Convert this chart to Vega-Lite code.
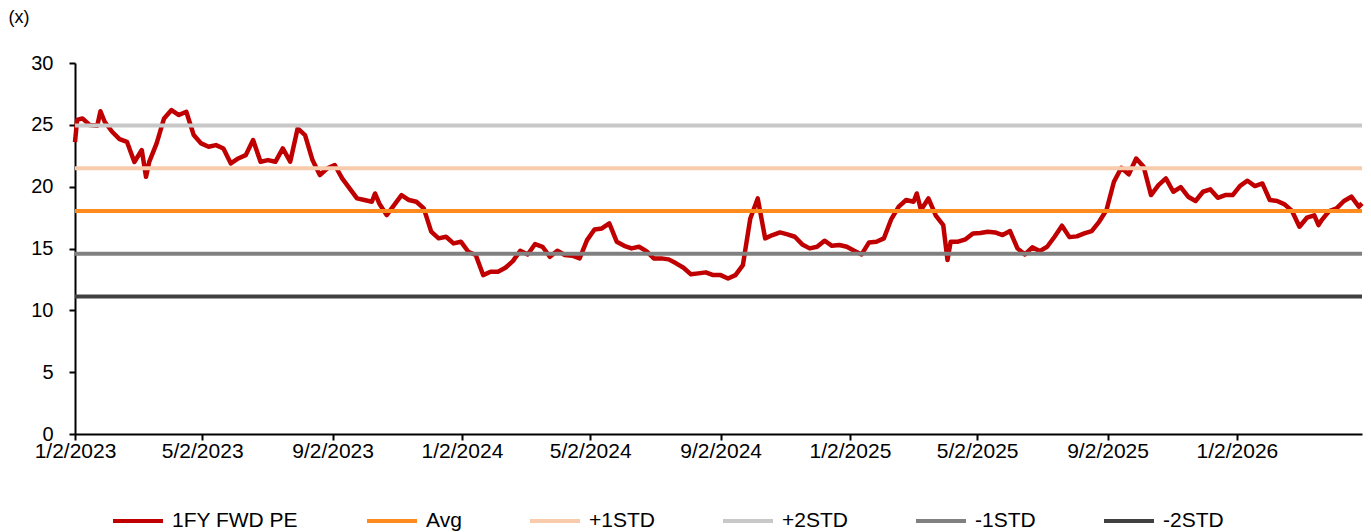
{
  "$schema": "https://vega.github.io/schema/vega-lite/v6.json",
  "width": 1287,
  "height": 371,
  "autosize": "none",
  "padding": {"left": 75, "top": 63, "right": 9, "bottom": 98},
  "background": "white",
  "config": {
    "view": {"stroke": null},
    "font": "Liberation Sans",
    "axis": {
      "grid": false,
      "domainColor": "#000000",
      "domainWidth": 2,
      "tickColor": "#000000",
      "tickWidth": 2,
      "tickSize": 6,
      "labelColor": "#000000",
      "labelFont": "Liberation Sans",
      "titleFont": "Liberation Sans",
      "titleColor": "#000000"
    },
    "legend": {
      "labelFont": "Liberation Sans",
      "labelColor": "#000000"
    }
  },
  "datasets": {
    "pe": [
      {"date": "2023-01-02", "pe": 23.6},
      {"date": "2023-01-04", "pe": 25.4},
      {"date": "2023-01-09", "pe": 25.52},
      {"date": "2023-01-16", "pe": 24.98},
      {"date": "2023-01-23", "pe": 24.93},
      {"date": "2023-01-26", "pe": 26.1},
      {"date": "2023-01-30", "pe": 25.25},
      {"date": "2023-02-06", "pe": 24.44},
      {"date": "2023-02-13", "pe": 23.85},
      {"date": "2023-02-20", "pe": 23.63},
      {"date": "2023-02-27", "pe": 22.0},
      {"date": "2023-03-06", "pe": 22.96},
      {"date": "2023-03-10", "pe": 20.8},
      {"date": "2023-03-13", "pe": 22.0},
      {"date": "2023-03-20", "pe": 23.5},
      {"date": "2023-03-27", "pe": 25.52},
      {"date": "2023-04-03", "pe": 26.19},
      {"date": "2023-04-10", "pe": 25.79},
      {"date": "2023-04-17", "pe": 26.06},
      {"date": "2023-04-24", "pe": 24.17},
      {"date": "2023-05-01", "pe": 23.5},
      {"date": "2023-05-08", "pe": 23.23},
      {"date": "2023-05-15", "pe": 23.36},
      {"date": "2023-05-22", "pe": 23.09},
      {"date": "2023-05-29", "pe": 21.88},
      {"date": "2023-06-05", "pe": 22.28},
      {"date": "2023-06-12", "pe": 22.55},
      {"date": "2023-06-19", "pe": 23.77},
      {"date": "2023-06-26", "pe": 22.01},
      {"date": "2023-07-03", "pe": 22.15},
      {"date": "2023-07-10", "pe": 22.01},
      {"date": "2023-07-17", "pe": 23.09},
      {"date": "2023-07-24", "pe": 22.02},
      {"date": "2023-07-31", "pe": 24.71},
      {"date": "2023-08-07", "pe": 24.17},
      {"date": "2023-08-14", "pe": 22.15},
      {"date": "2023-08-21", "pe": 20.94},
      {"date": "2023-08-28", "pe": 21.48},
      {"date": "2023-09-04", "pe": 21.75},
      {"date": "2023-09-11", "pe": 20.67},
      {"date": "2023-09-18", "pe": 19.86},
      {"date": "2023-09-25", "pe": 19.05},
      {"date": "2023-10-02", "pe": 18.92},
      {"date": "2023-10-09", "pe": 18.78},
      {"date": "2023-10-12", "pe": 19.45},
      {"date": "2023-10-16", "pe": 18.64},
      {"date": "2023-10-23", "pe": 17.7},
      {"date": "2023-10-30", "pe": 18.51},
      {"date": "2023-11-06", "pe": 19.32},
      {"date": "2023-11-13", "pe": 18.92},
      {"date": "2023-11-20", "pe": 18.78},
      {"date": "2023-11-27", "pe": 18.24},
      {"date": "2023-12-04", "pe": 16.36},
      {"date": "2023-12-11", "pe": 15.82},
      {"date": "2023-12-18", "pe": 15.95},
      {"date": "2023-12-25", "pe": 15.41},
      {"date": "2024-01-01", "pe": 15.55},
      {"date": "2024-01-08", "pe": 14.74},
      {"date": "2024-01-15", "pe": 14.47},
      {"date": "2024-01-22", "pe": 12.85},
      {"date": "2024-01-29", "pe": 13.12},
      {"date": "2024-02-05", "pe": 13.12},
      {"date": "2024-02-12", "pe": 13.44},
      {"date": "2024-02-19", "pe": 13.98},
      {"date": "2024-02-26", "pe": 14.82},
      {"date": "2024-03-04", "pe": 14.52},
      {"date": "2024-03-11", "pe": 15.36},
      {"date": "2024-03-18", "pe": 15.14},
      {"date": "2024-03-25", "pe": 14.33},
      {"date": "2024-04-01", "pe": 14.82},
      {"date": "2024-04-08", "pe": 14.47},
      {"date": "2024-04-15", "pe": 14.42},
      {"date": "2024-04-22", "pe": 14.2},
      {"date": "2024-04-29", "pe": 15.68},
      {"date": "2024-05-06", "pe": 16.54},
      {"date": "2024-05-13", "pe": 16.62},
      {"date": "2024-05-20", "pe": 17.03},
      {"date": "2024-05-27", "pe": 15.55},
      {"date": "2024-06-03", "pe": 15.22},
      {"date": "2024-06-10", "pe": 15.01},
      {"date": "2024-06-17", "pe": 15.14},
      {"date": "2024-06-24", "pe": 14.79},
      {"date": "2024-07-01", "pe": 14.2},
      {"date": "2024-07-08", "pe": 14.2},
      {"date": "2024-07-15", "pe": 14.12},
      {"date": "2024-07-22", "pe": 13.8},
      {"date": "2024-07-29", "pe": 13.44},
      {"date": "2024-08-05", "pe": 12.91},
      {"date": "2024-08-12", "pe": 12.99},
      {"date": "2024-08-19", "pe": 13.07},
      {"date": "2024-08-26", "pe": 12.85},
      {"date": "2024-09-02", "pe": 12.85},
      {"date": "2024-09-09", "pe": 12.58},
      {"date": "2024-09-16", "pe": 12.85},
      {"date": "2024-09-23", "pe": 13.66},
      {"date": "2024-09-30", "pe": 17.43},
      {"date": "2024-10-07", "pe": 19.05},
      {"date": "2024-10-14", "pe": 15.82},
      {"date": "2024-10-21", "pe": 16.09},
      {"date": "2024-10-28", "pe": 16.3},
      {"date": "2024-11-04", "pe": 16.14},
      {"date": "2024-11-11", "pe": 15.95},
      {"date": "2024-11-18", "pe": 15.33},
      {"date": "2024-11-25", "pe": 15.01},
      {"date": "2024-12-02", "pe": 15.14},
      {"date": "2024-12-09", "pe": 15.63},
      {"date": "2024-12-16", "pe": 15.22},
      {"date": "2024-12-23", "pe": 15.28},
      {"date": "2024-12-30", "pe": 15.14},
      {"date": "2025-01-06", "pe": 14.82},
      {"date": "2025-01-13", "pe": 14.52},
      {"date": "2025-01-20", "pe": 15.49},
      {"date": "2025-01-27", "pe": 15.55},
      {"date": "2025-02-03", "pe": 15.82},
      {"date": "2025-02-10", "pe": 17.38},
      {"date": "2025-02-17", "pe": 18.38},
      {"date": "2025-02-24", "pe": 18.92},
      {"date": "2025-03-03", "pe": 18.78},
      {"date": "2025-03-06", "pe": 19.45},
      {"date": "2025-03-10", "pe": 18.11},
      {"date": "2025-03-17", "pe": 19.05},
      {"date": "2025-03-24", "pe": 17.65},
      {"date": "2025-03-31", "pe": 16.89},
      {"date": "2025-04-04", "pe": 14.07},
      {"date": "2025-04-07", "pe": 15.55},
      {"date": "2025-04-14", "pe": 15.55},
      {"date": "2025-04-21", "pe": 15.74},
      {"date": "2025-04-28", "pe": 16.22},
      {"date": "2025-05-05", "pe": 16.25},
      {"date": "2025-05-12", "pe": 16.35},
      {"date": "2025-05-19", "pe": 16.3},
      {"date": "2025-05-26", "pe": 16.09},
      {"date": "2025-06-02", "pe": 16.41},
      {"date": "2025-06-09", "pe": 15.01},
      {"date": "2025-06-16", "pe": 14.52},
      {"date": "2025-06-23", "pe": 15.09},
      {"date": "2025-06-30", "pe": 14.79},
      {"date": "2025-07-07", "pe": 15.14},
      {"date": "2025-07-14", "pe": 15.95},
      {"date": "2025-07-21", "pe": 16.84},
      {"date": "2025-07-28", "pe": 15.92},
      {"date": "2025-08-04", "pe": 15.98},
      {"date": "2025-08-11", "pe": 16.22},
      {"date": "2025-08-18", "pe": 16.41},
      {"date": "2025-08-25", "pe": 17.16},
      {"date": "2025-09-01", "pe": 18.11},
      {"date": "2025-09-08", "pe": 20.4},
      {"date": "2025-09-15", "pe": 21.53},
      {"date": "2025-09-22", "pe": 20.99},
      {"date": "2025-09-29", "pe": 22.28},
      {"date": "2025-10-06", "pe": 21.61},
      {"date": "2025-10-13", "pe": 19.32},
      {"date": "2025-10-20", "pe": 20.13},
      {"date": "2025-10-27", "pe": 20.67},
      {"date": "2025-11-03", "pe": 19.59},
      {"date": "2025-11-10", "pe": 19.97},
      {"date": "2025-11-17", "pe": 19.19},
      {"date": "2025-11-24", "pe": 18.84},
      {"date": "2025-12-01", "pe": 19.59},
      {"date": "2025-12-08", "pe": 19.78},
      {"date": "2025-12-15", "pe": 19.1},
      {"date": "2025-12-22", "pe": 19.32},
      {"date": "2025-12-29", "pe": 19.32},
      {"date": "2026-01-05", "pe": 20.07},
      {"date": "2026-01-12", "pe": 20.48},
      {"date": "2026-01-19", "pe": 20.05},
      {"date": "2026-01-26", "pe": 20.26},
      {"date": "2026-02-02", "pe": 18.92},
      {"date": "2026-02-09", "pe": 18.84},
      {"date": "2026-02-16", "pe": 18.57},
      {"date": "2026-02-23", "pe": 18.03},
      {"date": "2026-03-02", "pe": 16.76},
      {"date": "2026-03-09", "pe": 17.49},
      {"date": "2026-03-16", "pe": 17.68},
      {"date": "2026-03-20", "pe": 16.89},
      {"date": "2026-03-23", "pe": 17.3},
      {"date": "2026-03-30", "pe": 18.03},
      {"date": "2026-04-06", "pe": 18.24},
      {"date": "2026-04-13", "pe": 18.84},
      {"date": "2026-04-20", "pe": 19.19},
      {"date": "2026-04-27", "pe": 18.38},
      {"date": "2026-04-30", "pe": 18.65}
    ],
    "bands": [
      {"series": "Avg", "value": 18.03},
      {"series": "+1STD", "value": 21.49},
      {"series": "+2STD", "value": 24.95},
      {"series": "-1STD", "value": 14.57},
      {"series": "-2STD", "value": 11.11}
    ]
  },
  "layer": [
    {
      "data": {"name": "pe"},
      "mark": {"type": "line", "strokeWidth": 4.5, "strokeJoin": "round"},
      "encoding": {
        "x": {
          "field": "date",
          "type": "temporal",
          "scale": {
            "type": "utc",
            "nice": false,
            "domain": [
              {"year": 2023, "month": 1, "date": 2, "utc": true},
              {"year": 2026, "month": 4, "date": 30, "utc": true}
            ]
          },
          "axis": {
            "title": null,
            "format": "%-m/%-d/%Y",
            "labelFontSize": 21,
            "labelAngle": 0,
            "labelAlign": "center",
            "labelFlush": false,
            "labelPadding": 0,
            "labelOverlap": false,
            "values": [
              {"year": 2023, "month": 1, "date": 2, "utc": true},
              {"year": 2023, "month": 5, "date": 2, "utc": true},
              {"year": 2023, "month": 9, "date": 2, "utc": true},
              {"year": 2024, "month": 1, "date": 2, "utc": true},
              {"year": 2024, "month": 5, "date": 2, "utc": true},
              {"year": 2024, "month": 9, "date": 2, "utc": true},
              {"year": 2025, "month": 1, "date": 2, "utc": true},
              {"year": 2025, "month": 5, "date": 2, "utc": true},
              {"year": 2025, "month": 9, "date": 2, "utc": true},
              {"year": 2026, "month": 1, "date": 2, "utc": true}
            ]
          }
        },
        "y": {
          "field": "pe",
          "type": "quantitative",
          "scale": {"domain": [0, 30], "nice": false, "zero": true},
          "axis": {
            "values": [0, 5, 10, 15, 20, 25, 30],
            "labelFontSize": 20,
            "labelPadding": 16,
            "title": "(x)",
            "titleAngle": 0,
            "titleAlign": "left",
            "titleBaseline": "middle",
            "titleFontSize": 18,
            "titleFontWeight": "normal",
            "titleX": -67,
            "titleY": -46
          }
        },
        "color": {
          "datum": "1FY FWD PE",
          "type": "nominal",
          "scale": {
            "domain": ["1FY FWD PE", "Avg", "+1STD", "+2STD", "-1STD", "-2STD"],
            "range": ["#C00000", "#FF8A1E", "#F8CBAD", "#C8C8C8", "#808080", "#404040"]
          },
          "legend": {
            "title": null,
            "orient": "none",
            "direction": "horizontal",
            "legendX": 36,
            "legendY": 431,
            "columns": 6,
            "columnPadding": 60,
            "labelOffset": 7,
            "labelFontSize": 21,
            "symbolType": "stroke",
            "symbolSize": 2500,
            "symbolStrokeWidth": 4,
            "padding": 0
          }
        }
      }
    },
    {
      "data": {"name": "bands"},
      "mark": {"type": "rule", "strokeWidth": 4},
      "encoding": {
        "y": {"field": "value", "type": "quantitative"},
        "color": {
          "field": "series",
          "type": "nominal",
          "legend": {
            "title": null,
            "orient": "none",
            "direction": "horizontal",
            "legendX": 36,
            "legendY": 431,
            "columns": 6,
            "columnPadding": 60,
            "labelOffset": 7,
            "labelFontSize": 21,
            "symbolType": "stroke",
            "symbolSize": 2500,
            "symbolStrokeWidth": 4,
            "padding": 0
          }
        }
      }
    }
  ]
}
